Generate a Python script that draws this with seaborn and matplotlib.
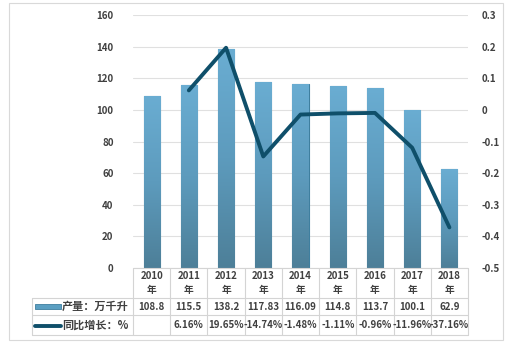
import matplotlib
matplotlib.use("Agg")
import matplotlib.pyplot as plt
from matplotlib.patches import Rectangle
from matplotlib.lines import Line2D
from matplotlib.colors import LinearSegmentedColormap
import seaborn as sns
import pandas as pd
import numpy as np

years = ["2010", "2011", "2012", "2013", "2014", "2015", "2016", "2017", "2018"]
output = [108.8, 115.5, 138.2, 117.83, 116.09, 114.8, 113.7, 100.1, 62.9]
output_labels = ["108.8", "115.5", "138.2", "117.83", "116.09", "114.8", "113.7", "100.1", "62.9"]
growth = [np.nan, 0.0616, 0.1965, -0.1474, -0.0148, -0.0111, -0.0096, -0.1196, -0.3716]
growth_labels = ["", "6.16%", "19.65%", "-14.74%", "-1.48%", "-1.11%", "-0.96%", "-11.96%", "-37.16%"]
series_names = ["产量：万千升", "同比增长：%"]

sns.set_theme(style="white")
plt.rcParams['font.family'] = ['Noto Sans CJK SC', 'DejaVu Sans']

W, H = 519, 348
fig = plt.figure(figsize=(W / 100, H / 100), dpi=100)
ax = fig.add_axes([133 / W, 1 - 268 / H, (468 - 133) / W, (268 - 15) / H])

df = pd.DataFrame({"year": years, "output": output, "growth": growth, "idx": range(len(years))})

bar_color = "#5b9fc2"
line_color = "#0f4f6a"
text_color = "#404040"
grid_color = "#e0e0e0"

sns.barplot(data=df, x="idx", y="output", ax=ax, color=bar_color, width=0.43,
            edgecolor="#3f7f9f", linewidth=0.8, saturation=1, zorder=3)
ax.set_ylim(0, 160)
ax.set_xlim(-0.5, len(years) - 0.5)

# vertical gradient fill inside each bar
cmap = LinearSegmentedColormap.from_list("barg", ["#4d7f98", "#5d9bbd", "#6aadd2"])
grad = np.linspace(0, 1, 256).reshape(-1, 1)
for p in list(ax.patches):
    x, y = p.get_x(), p.get_y()
    w, h = p.get_width(), p.get_height()
    im = ax.imshow(grad, cmap=cmap, origin="lower", aspect="auto",
                   extent=[x, x + w, y, y + h], zorder=3.5)
    im.set_clip_path(p)
ax.set_xlim(-0.5, len(years) - 0.5)
ax.set_ylim(0, 160)

ax.set_yticks(range(0, 161, 20))
ax.yaxis.grid(True, color=grid_color, linewidth=0.8, zorder=0)
ax.set_axisbelow(True)
ax.set_xticks([])
ax.set_xlabel("")
ax.set_ylabel("")
for s in ax.spines.values():
    s.set_visible(False)
ax.tick_params(axis="y", length=0, pad=14, labelsize=7, labelcolor=text_color)
for lab in ax.get_yticklabels():
    lab.set_fontweight("bold")

ax2 = ax.twinx()
sns.lineplot(data=df, x="idx", y="growth", ax=ax2, color=line_color, linewidth=2.8, zorder=4)
ax2.set_ylim(-0.5, 0.3)
ax2.set_yticks([0.3, 0.2, 0.1, 0, -0.1, -0.2, -0.3, -0.4, -0.5])
ax2.set_yticklabels(["0.3", "0.2", "0.1", "0", "-0.1", "-0.2", "-0.3", "-0.4", "-0.5"])
ax2.set_xlim(-0.5, len(years) - 0.5)
ax2.set_ylabel("")
ax2.set_xlabel("")
for s in ax2.spines.values():
    s.set_visible(False)
ax2.tick_params(axis="y", length=0, pad=10, labelsize=7, labelcolor=text_color)
for lab in ax2.get_yticklabels():
    lab.set_fontweight("bold")

# Table below the plot
def fy(py):
    return 1 - py / H

def fx_from_data(x):
    return ax.transData.transform((x, 0))[0] / fig.dpi / fig.get_figwidth()

tcol = "#d4d4d4"
x_left_tab = 32 / W
x0 = 133 / W
x1 = 468 / W
y_top, y_r1, y_r2, y_bot = fy(268), fy(298), fy(315), fy(335)
fig.add_artist(Line2D([x0, x1], [y_top, y_top], color=tcol, lw=0.8))
fig.add_artist(Line2D([x_left_tab, x1], [y_r1, y_r1], color=tcol, lw=0.8))
fig.add_artist(Line2D([x_left_tab, x1], [y_r2, y_r2], color=tcol, lw=0.8))
fig.add_artist(Line2D([x_left_tab, x1], [y_bot, y_bot], color=tcol, lw=0.8))
fig.add_artist(Line2D([x_left_tab, x_left_tab], [y_r1, y_bot], color=tcol, lw=0.8))
for i in range(len(years) + 1):
    xv = fx_from_data(i - 0.5)
    fig.add_artist(Line2D([xv, xv], [y_top, y_bot], color=tcol, lw=0.8))

for i, yr in enumerate(years):
    xc = fx_from_data(i)
    fig.text(xc, fy(276), yr, ha="center", va="center", fontsize=7, fontweight="bold", color=text_color)
    fig.text(xc, fy(290), "年", ha="center", va="center", fontsize=7, fontweight="bold", color=text_color)
    fig.text(xc, fy(306.5), output_labels[i], ha="center", va="center", fontsize=7, fontweight="bold", color=text_color)
    fig.text(xc, fy(325.5), growth_labels[i], ha="center", va="center", fontsize=7, fontweight="bold", color=text_color)

# legend keys
key = Rectangle((35 / W, fy(309)), 26 / W, 5 / H, facecolor=bar_color, edgecolor="#3f7f9f", lw=0.6)
fig.add_artist(key)
fig.add_artist(Line2D([35 / W, 61 / W], [fy(325.5), fy(325.5)], color=line_color, lw=2.8))
fig.text(62 / W, fy(306.5), series_names[0], ha="left", va="center", fontsize=8, fontweight="bold", color=text_color)
fig.text(62 / W, fy(325.5), series_names[1], ha="left", va="center", fontsize=8, fontweight="bold", color=text_color)

# outer border
fig.add_artist(Rectangle((9 / W, fy(340)), (503 - 9) / W, (340 - 3) / H, fill=False, edgecolor="#d9d9d9", lw=0.8))

fig.savefig("out.png", dpi=100)
